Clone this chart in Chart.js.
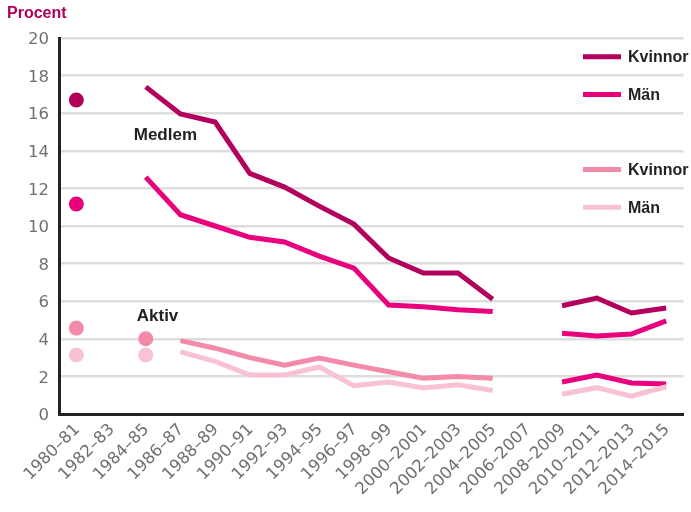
<!DOCTYPE html>
<html>
<head>
<meta charset="utf-8">
<script src="https://cdn.jsdelivr.net/npm/chart.js@4"></script>
<style>
  html, body { margin: 0; padding: 0; background: #fff; }
  #wrap { width: 691px; height: 512px; }
</style>
</head>
<body>
<div id="wrap"><canvas id="chart" width="691" height="512"></canvas></div>
<script>
// Categories (two-year periods)
const periods = ["1980–81", "1982–83", "1984–85", "1986–87", "1988–89", "1990–91",
  "1992–93", "1994–95", "1996–97", "1998–99", "2000–2001", "2002–2003",
  "2004–2005", "2006–2007", "2008–2009", "2010–2011", "2012–2013", "2014–2015"];

const yTicks = [0, 2, 4, 6, 8, 10, 12, 14, 16, 18, 20];

// Medlem (member) lines
const medlemKvinnor = [null, null, 17.4, 15.96, 15.53, 12.8, 12.07, 11.06, 10.1, 8.3, 7.5, 7.5, 6.1, null, 5.76, 6.17, 5.37, 5.64];
const medlemMan     = [null, null, 12.6, 10.6, 10.0, 9.4, 9.15, 8.4, 7.76, 5.8, 5.7, 5.55, 5.45, null, 4.3, 4.15, 4.25, 4.95];
// Aktiv (active) lines
const aktivKvinnor  = [null, null, null, 3.9, 3.5, 3.0, 2.6, 2.97, 2.6, 2.25, 1.9, 2.0, 1.9, null, 1.7, 2.07, 1.65, 1.6];
const aktivMan      = [null, null, null, 3.3, 2.8, 2.07, 2.07, 2.5, 1.5, 1.7, 1.38, 1.55, 1.25, null, 1.05, 1.4, 0.95, 1.45];

// single survey points shown as dots
const medlemKvinnorDots = [16.7, null, null, null, null, null, null, null, null, null, null, null, null, null, null, null, null, null];
const medlemManDots     = [11.17, null, null, null, null, null, null, null, null, null, null, null, null, null, null, null, null, null];
const aktivKvinnorDots  = [4.57, null, 4.0, null, null, null, null, null, null, null, null, null, null, null, null, null, null, null];
const aktivManDots      = [3.14, null, 3.14, null, null, null, null, null, null, null, null, null, null, null, null, null, null, null];

const C_KM = "#b2005c";
const C_MM = "#e8007d";
const C_KA = "#f28aa8";
const C_MA = "#f8c2d2";

const FONT = "'Liberation Sans', Arial, sans-serif";
const TICK_FONT = "'DejaVu Sans', sans-serif";

function lineSet(data, color, extra) {
  return Object.assign({
    data: data,
    borderColor: color,
    backgroundColor: color,
    borderWidth: 5,
    pointRadius: 0,
    fill: false,
    tension: 0,
    spanGaps: false
  }, extra || {});
}

function dotSet(data, color) {
  return {
    data: data,
    showLine: false,
    borderWidth: 0,
    pointRadius: 7.5,
    pointBackgroundColor: color,
    pointBorderWidth: 0
  };
}

// Texts: title, series labels and the legend
const textPlugin = {
  id: "texts",
  afterDatasetsDraw(chart) {
    const ctx = chart.ctx;
    const x = chart.scales.x, y = chart.scales.y;
    ctx.save();
    ctx.textBaseline = "middle";
    ctx.textAlign = "left";

    ctx.font = "bold 16px " + FONT;
    ctx.fillStyle = "#b0005a";
    ctx.fillText("Procent", 7, 14);

    ctx.font = "bold 17px " + FONT;
    ctx.fillStyle = "#222";
    ctx.fillText("Medlem", x.getPixelForValue(2) - 12, y.getPixelForValue(14.8));
    ctx.fillText("Aktiv", x.getPixelForValue(2) - 9, y.getPixelForValue(5.2));

    const legend = [
      ["Kvinnor", C_KM, 19],
      ["Män", C_MM, 17],
      ["Kvinnor", C_KA, 13],
      ["Män", C_MA, 11]
    ];
    ctx.font = "bold 16px " + FONT;
    legend.forEach(function (l) {
      const py = y.getPixelForValue(l[2]);
      ctx.strokeStyle = l[1];
      ctx.lineWidth = 5;
      ctx.beginPath();
      ctx.moveTo(583, py);
      ctx.lineTo(621, py);
      ctx.stroke();
      ctx.fillStyle = "#222";
      ctx.fillText(l[0], 628, py + 1);
    });
    ctx.restore();
  }
};

new Chart(document.getElementById("chart").getContext("2d"), {
  type: "line",
  data: {
    labels: periods,
    datasets: [
      lineSet(aktivMan, C_MA),
      lineSet(aktivKvinnor, C_KA, {
        segment: { borderColor: c => c.p0DataIndex >= 14 ? C_MM : C_KA }
      }),
      lineSet(medlemMan, C_MM),
      lineSet(medlemKvinnor, C_KM),
      dotSet(aktivManDots, C_MA),
      dotSet(aktivKvinnorDots, C_KA),
      dotSet(medlemManDots, C_MM),
      dotSet(medlemKvinnorDots, C_KM)
    ]
  },
  options: {
    responsive: false,
    animation: false,
    layout: { padding: { top: 38, right: 2, left: 0, bottom: 0 } },
    plugins: {
      legend: { display: false },
      tooltip: { enabled: false }
    },
    scales: {
      x: {
        offset: true,
        grid: { display: false, drawTicks: false },
        border: { color: "#222", width: 3 },
        ticks: {
          color: "#707070",
          font: { family: TICK_FONT, size: 16.5 },
          maxRotation: 45,
          minRotation: 45,
          autoSkip: false,
          padding: 6,
          labelOffset: 1
        },
        afterFit(scale) { scale.height = 98; }
      },
      y: {
        min: 0,
        max: 20,
        afterBuildTicks(scale) { scale.ticks = yTicks.map(v => ({ value: v })); },
        grid: { color: "#dddddd", lineWidth: 2.5, drawTicks: false },
        border: { color: "#222", width: 3 },
        ticks: {
          color: "#707070",
          font: { family: TICK_FONT, size: 16.5 },
          padding: 10,
          labelOffset: 2
        },
        afterFit(scale) { scale.width = 59; }
      }
    }
  },
  plugins: [textPlugin]
});
</script>
</body>
</html>
